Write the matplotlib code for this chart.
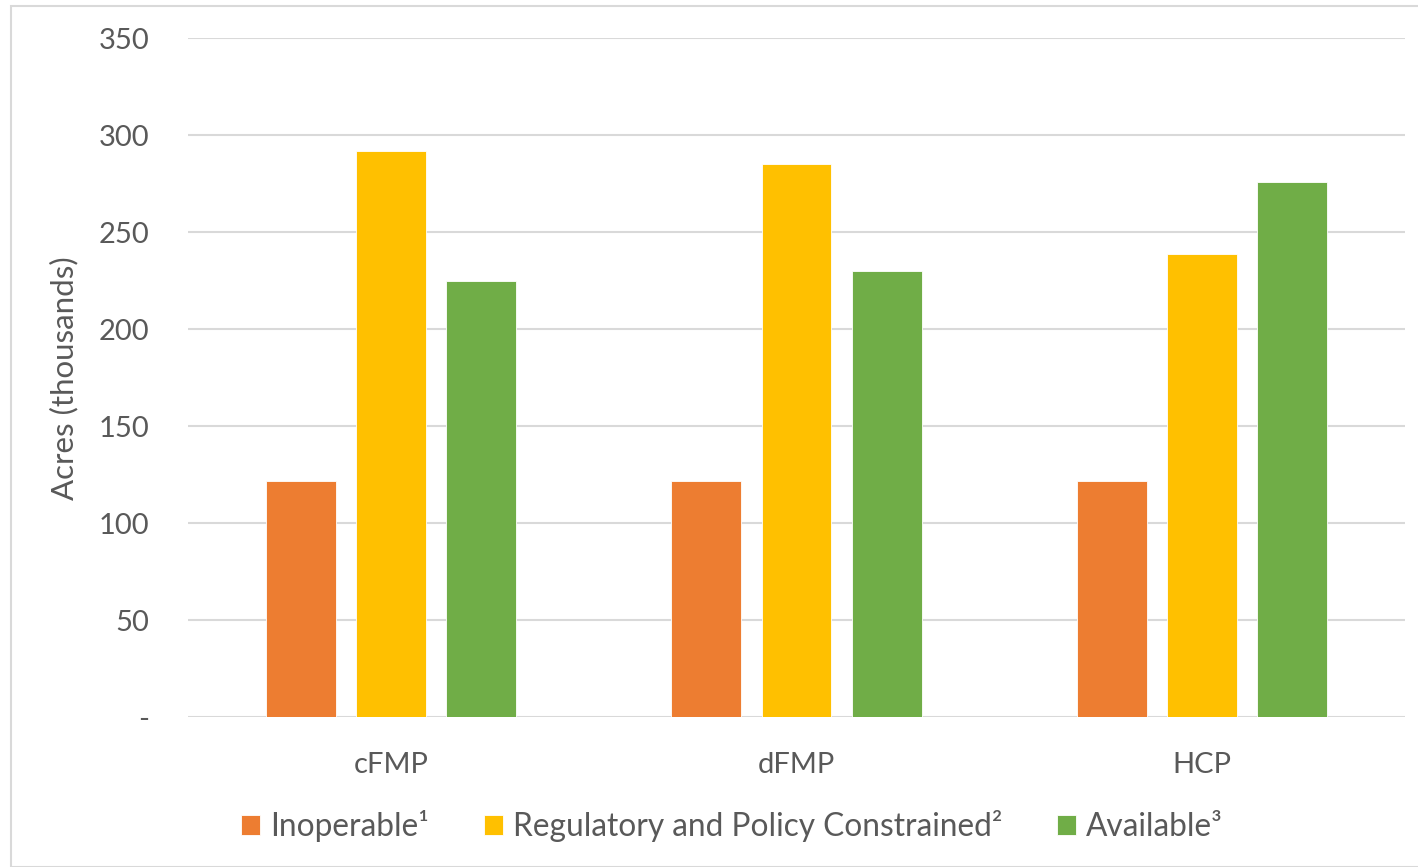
import matplotlib
matplotlib.use("Agg")
import matplotlib.pyplot as plt
from matplotlib.patches import Rectangle
import numpy as np

# Data (acres, thousands)
categories = ["cFMP", "dFMP", "HCP"]
series_names = ["Inoperable\u00b9", "Regulatory and Policy Constrained\u00b2", "Available\u00b3"]
inoperable = [122, 122, 122]
regulatory = [292, 285, 239]
available = [225, 230, 276]
y_ticks = [0, 50, 100, 150, 200, 250, 300, 350]
y_tick_labels = ["-", "50", "100", "150", "200", "250", "300", "350"]

colors = ["#ED7D31", "#FFC000", "#70AD47"]
text_color = "#595959"
grid_color = "#D9D9D9"

plt.rcParams["font.family"] = ["Lato", "DejaVu Sans"]

W, H = 1418, 867
fig = plt.figure(figsize=(W / 100, H / 100), dpi=100)

# Chart-area border
fig.patches.append(Rectangle((11 / W, 0), 1.2, 1 - 6 / H, transform=fig.transFigure,
                             fill=False, edgecolor="#D9D9D9", linewidth=1.5))

ax = fig.add_axes([188 / W, 1 - 717.3 / H, (1405 - 188) / W, (717.3 - 38.3) / H])

x = np.arange(len(categories))
bar_w = 0.1725
step = 0.222
for i, (vals, name, c) in enumerate(zip([inoperable, regulatory, available], series_names, colors)):
    ax.bar(x + (i - 1) * step, vals, width=bar_w, color=c, label=name,
           edgecolor="white", linewidth=0.6, zorder=3)

ax.set_xlim(-0.5, 2.5)
ax.set_ylim(0, 350)
ax.set_yticks(y_ticks)
ax.set_yticklabels(y_tick_labels)
ax.set_xticks(x)
ax.set_xticklabels(categories)
ax.tick_params(axis="both", length=0, labelsize=21, labelcolor=text_color)
ax.tick_params(axis="y", pad=28)
ax.tick_params(axis="x", pad=25)
ax.grid(axis="y", color=grid_color, linewidth=1.5, zorder=0)
ax.set_axisbelow(True)
for s in ax.spines.values():
    s.set_visible(False)

ax.set_ylabel("Acres (thousands)", fontsize=22.5, color=text_color, labelpad=14)

leg = fig.legend(loc="center", bbox_to_anchor=(732 / W, 1 - 826 / H), ncol=3,
                 frameon=False, fontsize=22.8, labelcolor=text_color,
                 handlelength=0.6, handleheight=0.6, handletextpad=0.3,
                 columnspacing=1.75)

fig.savefig("out.png", dpi=100, facecolor="white")
